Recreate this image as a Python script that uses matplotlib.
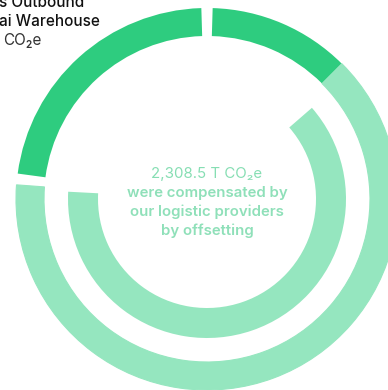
"""Donut chart: logistics emissions and the compensated share."""
import matplotlib

matplotlib.use("Agg")
import matplotlib.pyplot as plt

plt.rcParams["font.family"] = ["Inter", "DejaVu Sans"]

# outer ring, clockwise from the top (share of total, %)
OUTER_LABELS = ["Outbound other", "Outbound hubs", "Outbound Dubai Warehouse"]
OUTER_SHARES = [12.0, 63.7, 22.4]
OUTER_COLORS = ["#2ecc7f", "#95e6bf", "#2ecc7f"]

# inner ring: compensated emissions against the total (T CO2e)
COMPENSATED_T = 2308.5
TOTAL_T = 3710.0
INNER_START_DEG = 41.0

CENTER_LINES = ["were compensated by", "our logistic providers", "by offsetting"]

W_PX, H_PX = 388, 390
CX, CY, R_PX = 207, 199, 191
GAP_DEG = 3.4

fig = plt.figure(figsize=(W_PX / 100, H_PX / 100), dpi=100)
ax = fig.add_axes([0, 0, 1, 1])
ax.axis("off")

# outer ring, white gaps at the top and before the last segment
scale = (360 - 2 * GAP_DEG) / sum(OUTER_SHARES)
vals = [OUTER_SHARES[0] * scale, OUTER_SHARES[1] * scale, GAP_DEG,
        OUTER_SHARES[2] * scale, GAP_DEG]
cols = [OUTER_COLORS[0], OUTER_COLORS[1], "none", OUTER_COLORS[2], "none"]
wedges, _ = ax.pie(vals, colors=cols, radius=1.0, startangle=90 - GAP_DEG / 2,
                   counterclock=False, wedgeprops=dict(width=28 / R_PX, linewidth=0))
# hide the antialiasing seam between the two touching segments
wedges[1].set_edgecolor(OUTER_COLORS[1])
wedges[1].set_linewidth(0.8)

# inner ring: only the compensated part is drawn
rest = TOTAL_T - COMPENSATED_T
ax.pie([COMPENSATED_T, rest], colors=["#95e6bf", "none"], radius=139 / R_PX,
       startangle=INNER_START_DEG, counterclock=False,
       wedgeprops=dict(width=30 / R_PX, linewidth=0))
ax.set_xlim(-CX / R_PX, (W_PX - CX) / R_PX)
ax.set_ylim(-(H_PX - CY) / R_PX, CY / R_PX)
ax.set_aspect("auto")

ax.text(0, 21 / R_PX, f"{COMPENSATED_T:,.1f} T CO\u2082e", ha="center",
        va="baseline", fontsize=10.8, color="#86deb3", fontweight="normal")
for i, line in enumerate(CENTER_LINES):
    ax.text(0, (2 - 19 * i) / R_PX, line, ha="center", va="baseline",
            fontsize=10.8, color="#8fe0b9", fontweight="semibold")

fig.text(-1 / W_PX, 1 - 7 / H_PX, "s Outbound", ha="left", va="baseline",
         fontsize=11, fontweight="medium", color="#111111")
fig.text(-1 / W_PX, 1 - 26 / H_PX, "ai Warehouse", ha="left", va="baseline",
         fontsize=11, fontweight="medium", color="#111111")
fig.text(3 / W_PX, 1 - 45 / H_PX, "CO\u2082e", ha="left", va="baseline",
         fontsize=11, color="#333333")

fig.savefig("out.png", dpi=100)
